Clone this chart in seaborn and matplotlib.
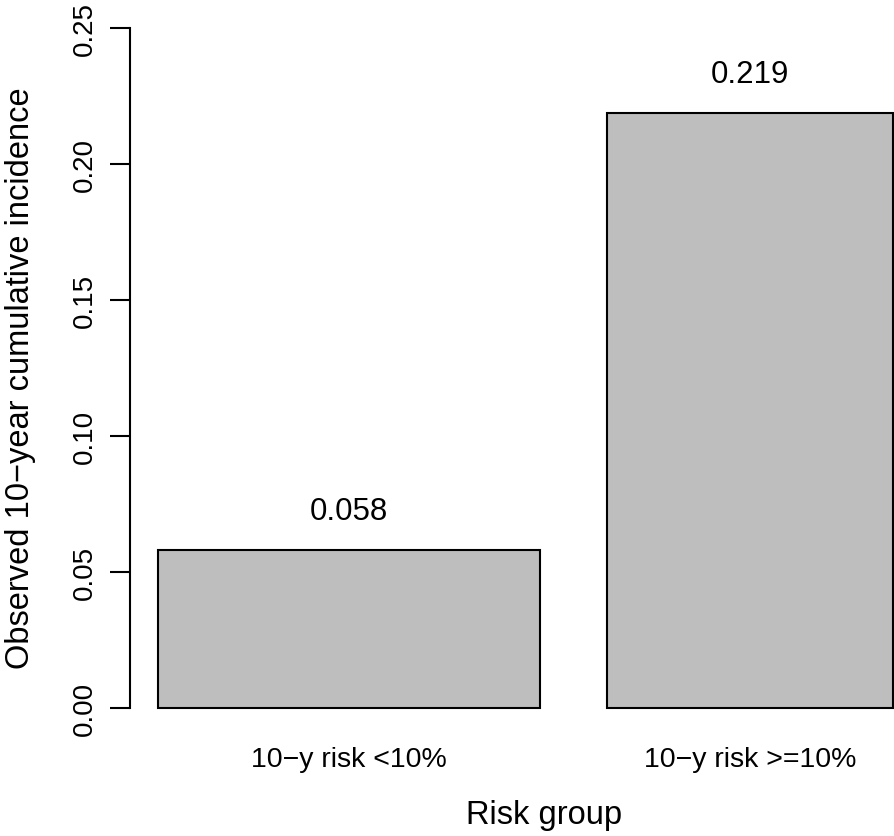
import numpy as np
import pandas as pd
import seaborn as sns
import matplotlib.pyplot as plt

# data
groups = ['10\u2212y risk <10%', '10\u2212y risk >=10%']
incidence = [0.058, 0.219]
bar_labels = ['0.058', '0.219']
bar_widths = [1.0, 0.75]
yticks = [0.00, 0.05, 0.10, 0.15, 0.20, 0.25]

sns.set_style('ticks')
plt.rcParams['font.family'] = ['Liberation Sans', 'DejaVu Sans']
plt.rcParams['text.color'] = 'black'
plt.rcParams['axes.labelcolor'] = 'black'
plt.rcParams['xtick.color'] = 'black'
plt.rcParams['ytick.color'] = 'black'

fig = plt.figure(figsize=(8.94, 8.37), dpi=100)
ax = fig.add_axes([130 / 894, (837 - 736.2) / 837, 764 / 894, 734.1 / 837])

df = pd.DataFrame({'group': groups, 'value': incidence})
sns.barplot(data=df, x='group', y='value', color='#BEBEBE', saturation=1,
            edgecolor='black', linewidth=1.5, ax=ax)

# R style barplot layout: gap = 0.2 * mean bar width
space = 0.2 * np.mean(bar_widths)
rights = np.cumsum(np.array(bar_widths) + space)
lefts = rights - np.array(bar_widths)
centers = (lefts + rights) / 2
for p, l, w in zip(ax.patches, lefts, bar_widths):
    p.set_x(l)
    p.set_width(w)
    p.set_clip_on(False)

ax.set_xlim(0.102, 2.102)
ax.set_ylim(-0.01, 0.26)

ax.set_xticks(centers)
ax.set_xticklabels(groups)
ax.set_yticks(yticks)
ax.set_yticklabels(['%.2f' % t for t in yticks], rotation=90, va='center')
ax.tick_params(axis='y', length=14.4, width=1.5, pad=9.0, labelsize=20, color='black')
ax.tick_params(axis='x', length=0, pad=8, labelsize=20.5)

for s in ['top', 'right', 'bottom']:
    ax.spines[s].set_visible(False)
ax.spines['left'].set_bounds(0, 0.25)
ax.spines['left'].set_linewidth(1.5)
ax.spines['left'].set_color('black')

for c, v, t in zip(centers, incidence, bar_labels):
    ax.annotate(t, (c, v), xytext=(0, 28), textcoords='offset points',
                ha='center', va='center', fontsize=22.5)

ax.set_ylabel('Observed 10\u2212year cumulative incidence', fontsize=23.5)
ax.yaxis.set_label_coords(-0.123, 0.488)
ax.set_xlabel('Risk group', fontsize=23.5)
ax.xaxis.set_label_coords(0.542, -0.087)

fig.savefig('out.png', dpi=100)
